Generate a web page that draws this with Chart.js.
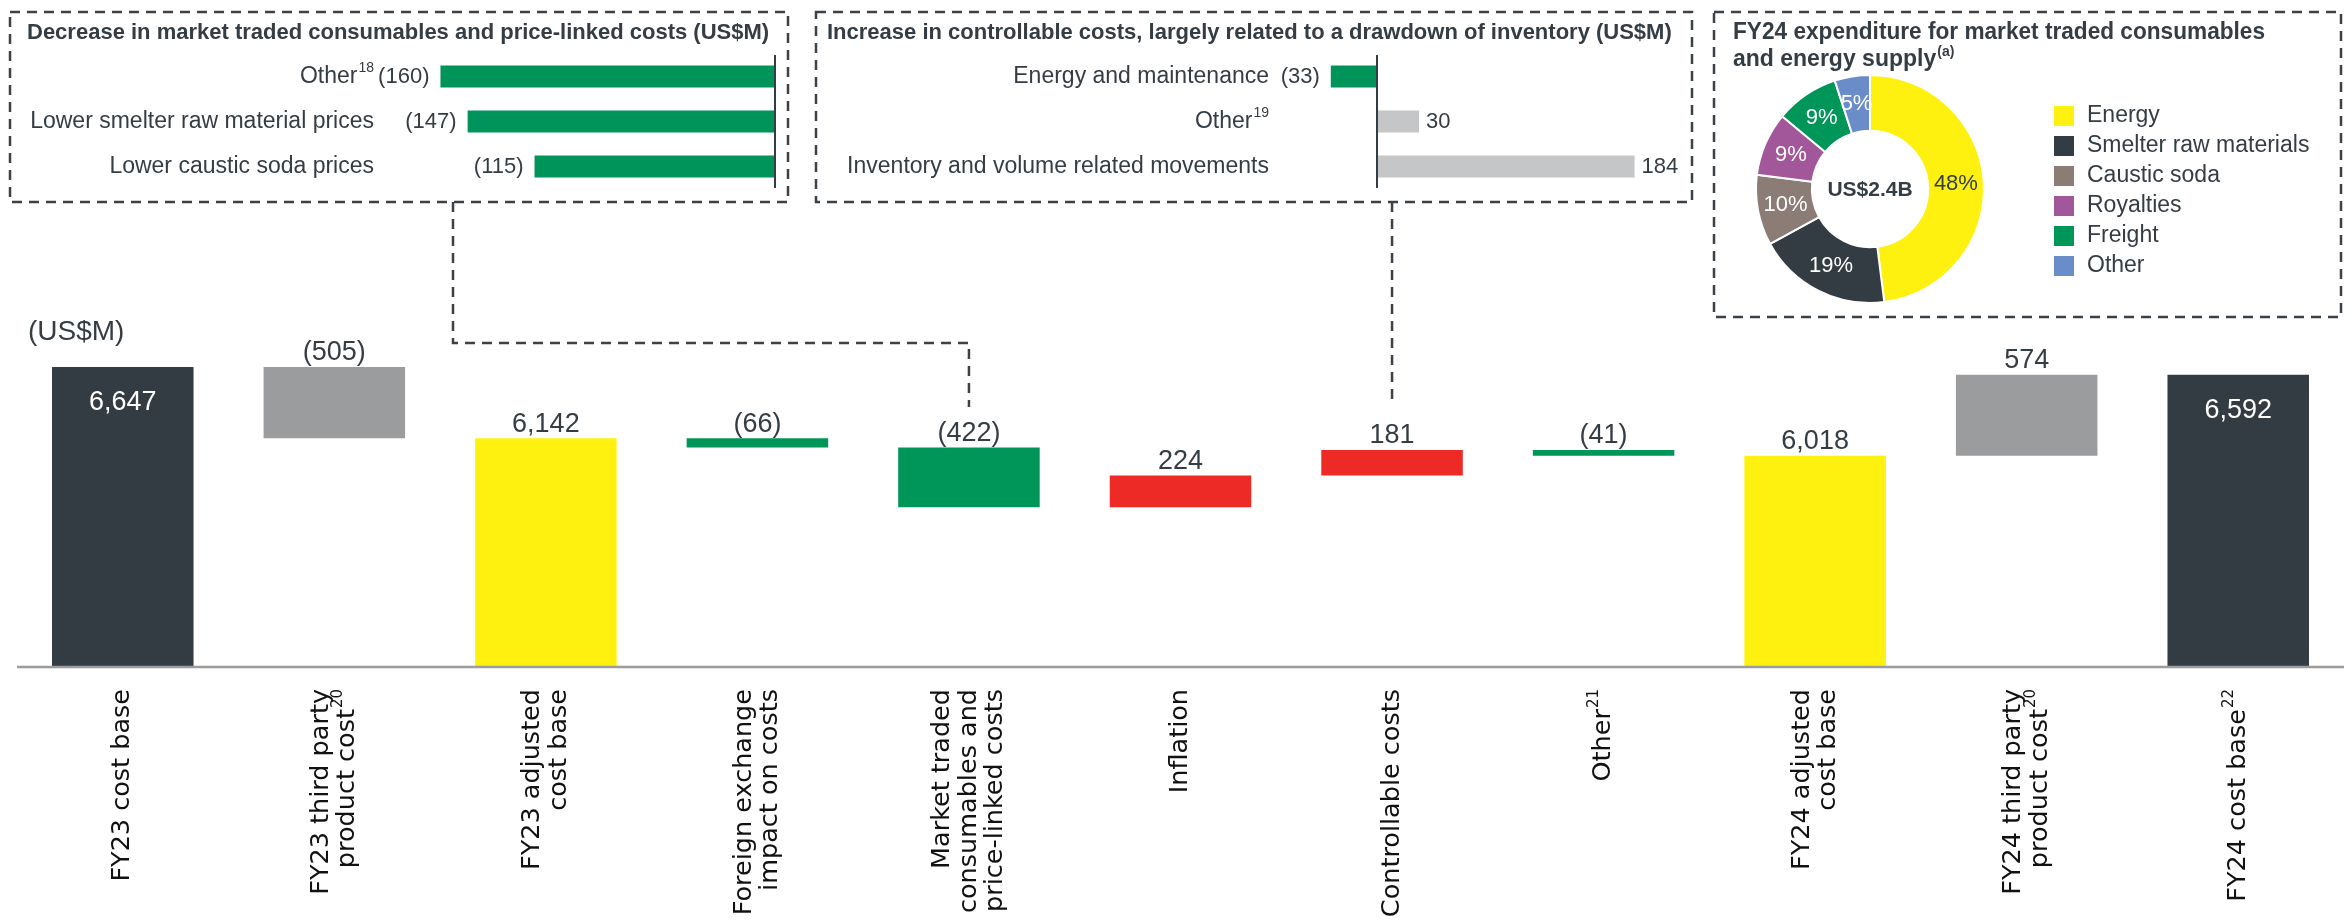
<!DOCTYPE html>
<html>
<head>
<meta charset="utf-8">
<title>FY24 cost base bridge</title>
<script src="https://cdn.jsdelivr.net/npm/chart.js@4.4.1/dist/chart.umd.min.js"></script>
<style>
  html, body { margin: 0; padding: 0; background: #fff; }
  #page { position: relative; width: 2351px; height: 920px; overflow: hidden; }
  #page canvas { position: absolute; left: 0; top: 0; }
</style>
</head>
<body>
<div id="page">
  <canvas id="bridgeChart" width="2351" height="920"></canvas>
  <canvas id="mtcChart" width="2351" height="920"></canvas>
  <canvas id="ctrlChart" width="2351" height="920"></canvas>
  <canvas id="spendChart" width="2351" height="920"></canvas>
</div>
<script>
// main bridge
const bridgeLabels = [
  ['FY23 cost base'],
  ['FY23 third party', 'product cost'],
  ['FY23 adjusted', 'cost base'],
  ['Foreign exchange', 'impact on costs'],
  ['Market traded', 'consumables and', 'price-linked costs'],
  ['Inflation'],
  ['Controllable costs'],
  ['Other'],
  ['FY24 adjusted', 'cost base'],
  ['FY24 third party', 'product cost'],
  ['FY24 cost base']
];
const bridgeNotes = ['', '20', '', '', '', '', '', '21', '', '20', '22'];
const bridgeValues = [6647, -505, 6142, -66, -422, 224, 181, -41, 6018, 574, 6592];
const bridgeKinds = ['base', 'third', 'adjusted', 'down', 'down', 'up', 'up', 'down', 'adjusted', 'third', 'base'];

// market traded consumables inset
const mtcLabels = ['Other', 'Lower smelter raw material prices', 'Lower caustic soda prices'];
const mtcNotes = ['18', '', ''];
const mtcValues = [-160, -147, -115];

// controllable costs inset
const ctrlLabels = ['Energy and maintenance', 'Other', 'Inventory and volume related movements'];
const ctrlNotes = ['', '19', ''];
const ctrlValues = [-33, 30, 184];

// FY24 expenditure donut
const spendLabels = ['Energy', 'Smelter raw materials', 'Caustic soda', 'Royalties', 'Freight', 'Other'];
const spendShares = [48, 19, 10, 9, 9, 5];

{
  'use strict';

  const dark = '#333d43';
  const sans = '"Liberation Sans", Arial, sans-serif';
  const kindColours = {base: '#323c42', third: '#9a9c9d', adjusted: '#fff10f', down: '#00965a', up: '#ee2a26'};
  const spendColours = ['#fff10f', '#323c42', '#8b7c76', '#a2579a', '#00965a', '#6a8dc9'];

  const formatValue = function(v){
    const txt = Math.abs(v).toLocaleString('en-US');
    return v < 0 ? '(' + txt + ')' : txt;
  };

  // text with an optional footnote superscript, baseline middle
  const drawSupText = function(ctx, text, sup, x, y, align, size, weight, family){
    const fam = family || sans;
    const font = (weight || '') + ' ' + size + 'px ' + fam;
    const supFont = (weight || '') + ' ' + Math.round(size * 0.6) + 'px ' + fam;
    ctx.font = font;
    const w = ctx.measureText(text).width;
    let sw = 0;
    if(sup){
      ctx.font = supFont;
      sw = ctx.measureText(sup).width + 1;
    }
    let start = x;
    if(align === 'right') start = x - w - sw;
    if(align === 'center') start = x - (w + sw) / 2;
    ctx.textAlign = 'left';
    ctx.font = font;
    ctx.fillText(text, start, y);
    if(sup){
      ctx.font = supFont;
      ctx.fillText(sup, start + w + 1, y - size * 0.36);
    }
  };

  const dashedRect = function(ctx, x, y, w, h){
    ctx.save();
    ctx.strokeStyle = '#3a4247';
    ctx.lineWidth = 2.5;
    ctx.setLineDash([10, 7]);
    ctx.strokeRect(x, y, w, h);
    ctx.restore();
  };

  const dashedPath = function(ctx, points){
    ctx.save();
    ctx.strokeStyle = '#3a4247';
    ctx.lineWidth = 2.5;
    ctx.setLineDash([10, 7]);
    ctx.beginPath();
    points.forEach(function(p, i){
      if(i === 0) ctx.moveTo(p[0], p[1]);
      else ctx.lineTo(p[0], p[1]);
    });
    ctx.stroke();
    ctx.restore();
  };

  const initBridgeChart = function(){

    let running = 0;
    const bridgeBars = bridgeValues.map(function(v, i){
      if(bridgeKinds[i] === 'base' || bridgeKinds[i] === 'adjusted'){
        running = v;
        return [0, v];
      }
      const from = running;
      running += v;
      return [from, running];
    });

    const bridgeDecor = {
      id: 'bridgeDecor',
      afterDatasetsDraw: function(chart){
        const ctx = chart.ctx;
        const area = chart.chartArea;
        const xScale = chart.scales.x;

        ctx.save();
        // axis line
        ctx.strokeStyle = '#9c9c9c';
        ctx.lineWidth = 2.5;
        ctx.beginPath();
        ctx.moveTo(area.left, area.bottom + 1);
        ctx.lineTo(area.right, area.bottom + 1);
        ctx.stroke();

        // value labels
        ctx.textAlign = 'center';
        ctx.textBaseline = 'middle';
        ctx.font = '27px ' + sans;
        chart.getDatasetMeta(0).data.forEach(function(bar, i){
          const top = Math.min(bar.y, bar.base);
          const inside = bridgeKinds[i] === 'base';
          ctx.fillStyle = inside ? '#ffffff' : dark;
          ctx.fillText(formatValue(bridgeValues[i]), bar.x, inside ? top + 36 : top - 14);
        });

        // category labels, rotated
        bridgeLabels.forEach(function(lines, i){
          const cx = xScale.getPixelForValue(i);
          ctx.save();
          ctx.translate(cx, area.bottom + 23);
          ctx.rotate(-Math.PI / 2);
          ctx.fillStyle = '#111111';
          ctx.textBaseline = 'middle';
          lines.forEach(function(line, j){
            const off = (j - (lines.length - 1) / 2) * 26.5;
            const sup = j === lines.length - 1 ? bridgeNotes[i] : '';
            drawSupText(ctx, line, sup, 0, off, 'right', 25.5, '', '"DejaVu Sans", sans-serif');
          });
          ctx.restore();
        });

        ctx.fillStyle = dark;
        ctx.textAlign = 'left';
        ctx.font = '28px ' + sans;
        ctx.fillText('(US$M)', 28, 332);

        // inset frames and their pointers
        dashedRect(ctx, 10, 12, 778, 190);
        dashedRect(ctx, 816, 12, 876, 190);
        dashedRect(ctx, 1714, 12, 627, 305);
        const mtcX = xScale.getPixelForValue(4);
        const ctrlX = xScale.getPixelForValue(6);
        dashedPath(ctx, [[453, 202], [453, 343], [mtcX, 343], [mtcX, 407]]);
        dashedPath(ctx, [[ctrlX, 202], [ctrlX, 403]]);
        ctx.restore();
      }
    };

    // eslint-disable-next-line no-undef, no-unused-vars
    const bridgeChart = new Chart(document.getElementById('bridgeChart'), {
      type: 'bar',
      data: {
        labels: bridgeLabels.map(function(l){ return l.join(' '); }),
        datasets: [{
          data: bridgeBars,
          backgroundColor: bridgeKinds.map(function(k){ return kindColours[k]; }),
          barPercentage: 0.669,
          categoryPercentage: 1,
        }]
      },
      options: {
        responsive: false,
        animation: false,
        events: [],
        layout: { padding: { left: 17, right: 7, top: 317, bottom: 254 } },
        plugins: { legend: { display: false }, tooltip: { enabled: false } },
        scales: {
          x: {
            grid: { display: false, drawTicks: false },
            ticks: { display: false },
            border: { display: false },
            afterFit: function(scale){ scale.height = 0; },
          },
          y: { display: false, min: 4530, max: 7000 }
        }
      },
      plugins: [bridgeDecor]
    });
  };

  initBridgeChart();


  const initInsetChart = function(canvasId, labels, notes, values, opts){

    const insetDecor = {
      id: 'insetDecor',
      afterDatasetsDraw: function(chart){
        const ctx = chart.ctx;
        const area = chart.chartArea;
        const zero = chart.scales.x.getPixelForValue(0);

        ctx.save();
        ctx.strokeStyle = dark;
        ctx.lineWidth = 2;
        ctx.beginPath();
        ctx.moveTo(zero, area.top + 1);
        ctx.lineTo(zero, area.bottom - 1);
        ctx.stroke();

        ctx.fillStyle = dark;
        ctx.textBaseline = 'middle';
        chart.getDatasetMeta(0).data.forEach(function(bar, i){
          drawSupText(ctx, labels[i], notes[i], opts.labelRight, bar.y, 'right', 23);
          ctx.font = '22px ' + sans;
          if(values[i] < 0){
            ctx.textAlign = 'right';
            ctx.fillText(formatValue(values[i]), bar.x - 11, bar.y);
          } else {
            ctx.textAlign = 'left';
            ctx.fillText(formatValue(values[i]), bar.x + 7, bar.y);
          }
        });

        ctx.textAlign = 'left';
        ctx.font = 'bold 22px ' + sans;
        ctx.fillText(opts.title, opts.titleX, 33, opts.titleWidth);
        ctx.restore();
      }
    };

    // eslint-disable-next-line no-undef
    return new Chart(document.getElementById(canvasId), {
      type: 'bar',
      data: {
        labels: labels,
        datasets: [{
          data: values,
          backgroundColor: values.map(function(v){ return v < 0 ? '#00935a' : '#c4c6c8'; }),
          barPercentage: 0.49,
          categoryPercentage: 1,
        }]
      },
      options: {
        indexAxis: 'y',
        responsive: false,
        animation: false,
        events: [],
        layout: { padding: opts.padding },
        plugins: { legend: { display: false }, tooltip: { enabled: false } },
        scales: {
          x: { display: false, min: opts.min, max: opts.max },
          y: { display: false }
        }
      },
      plugins: [insetDecor]
    });
  };

  initInsetChart('mtcChart', mtcLabels, mtcNotes, mtcValues, {
    padding: { left: 384, right: 1576, top: 54, bottom: 731 },
    min: -187,
    max: 0,
    labelRight: 374,
    title: 'Decrease in market traded consumables and price-linked costs (US$M)',
    titleX: 27,
    titleWidth: 753,
  });

  initInsetChart('ctrlChart', ctrlLabels, ctrlNotes, ctrlValues, {
    padding: { left: 1300, right: 701, top: 54, bottom: 731 },
    min: -55,
    max: 195,
    labelRight: 1269,
    title: 'Increase in controllable costs, largely related to a drawdown of inventory (US$M)',
    titleX: 827,
    titleWidth: 858,
  });


  const initSpendChart = function(){

    const spendDecor = {
      id: 'spendDecor',
      afterDatasetsDraw: function(chart){
        const ctx = chart.ctx;
        const area = chart.chartArea;
        ctx.save();
        ctx.textBaseline = 'middle';
        ctx.textAlign = 'center';
        ctx.font = '22px ' + sans;
        chart.getDatasetMeta(0).data.forEach(function(arc, i){
          const p = arc.getCenterPoint();
          ctx.fillStyle = i === 0 ? dark : '#ffffff';
          ctx.fillText(spendShares[i] + '%', p.x, p.y);
        });

        ctx.fillStyle = dark;
        ctx.font = 'bold 21px ' + sans;
        ctx.fillText('US$2.4B', (area.left + area.right) / 2, (area.top + area.bottom) / 2 + 1);

        // legend
        spendLabels.forEach(function(label, i){
          const y = 116 + i * 30;
          ctx.fillStyle = spendColours[i];
          ctx.fillRect(2054, y - 10, 20, 20);
          ctx.fillStyle = dark;
          ctx.textAlign = 'left';
          ctx.font = '23px ' + sans;
          ctx.fillText(label, 2087, y);
        });

        ctx.fillStyle = dark;
        ctx.textAlign = 'left';
        ctx.font = 'bold 23px ' + sans;
        ctx.fillText('FY24 expenditure for market traded consumables', 1733, 33, 532);
        drawSupText(ctx, 'and energy supply', '(a)', 1733, 60, 'left', 23, 'bold');
        ctx.restore();
      }
    };

    // eslint-disable-next-line no-undef
    return new Chart(document.getElementById('spendChart'), {
      type: 'doughnut',
      data: {
        labels: spendLabels,
        datasets: [{
          data: spendShares,
          backgroundColor: spendColours,
          borderColor: '#ffffff',
          borderWidth: 2,
        }]
      },
      options: {
        responsive: false,
        animation: false,
        events: [],
        cutout: '51%',
        layout: { padding: { left: 1755, right: 366, top: 74, bottom: 616 } },
        plugins: { legend: { display: false }, tooltip: { enabled: false } }
      },
      plugins: [spendDecor]
    });
  };

  initSpendChart();

}
</script>
</body>
</html>
